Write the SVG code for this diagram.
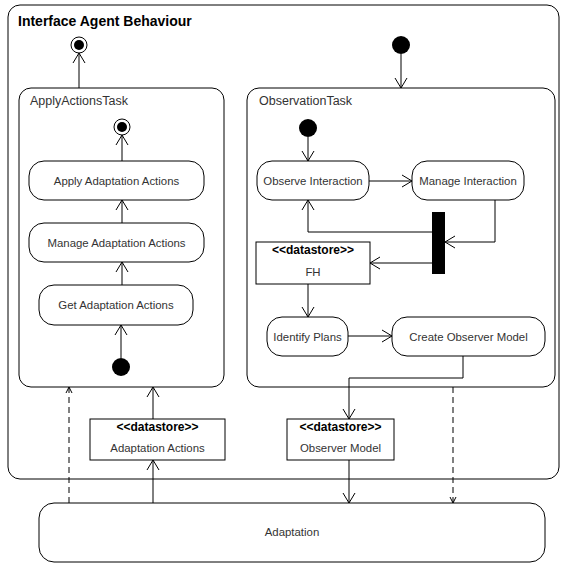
<svg xmlns="http://www.w3.org/2000/svg" width="562" height="565" viewBox="0 0 562 565">
<defs>
<marker id="arr" markerWidth="12" markerHeight="14" refX="11" refY="7" orient="auto" markerUnits="userSpaceOnUse">
<path d="M1,1 L11,7 L1,13" fill="none" stroke="#000" stroke-width="1"/>
</marker>
<marker id="arrs" markerWidth="8" markerHeight="8" refX="7" refY="4" orient="auto" markerUnits="userSpaceOnUse">
<path d="M1,1 L7,4 L1,7" fill="none" stroke="#000" stroke-width="1"/>
</marker>
</defs>
<style>
.frame{fill:#fff;stroke:#000;stroke-width:1}
.act{fill:#fff;stroke:#000;stroke-width:1}
.t{font-family:"Liberation Sans",Arial,sans-serif;font-size:11.4px;fill:#333;text-anchor:middle}
.tl{font-family:"Liberation Sans",Arial,sans-serif;font-size:12.5px;fill:#333}
.b{font-weight:bold;fill:#000;font-size:12px}
.c{fill:none;stroke:#000;stroke-width:1}
.d{fill:none;stroke:#000;stroke-width:1;stroke-dasharray:6,4}
</style>
<rect width="562" height="565" fill="#fff"/>
<g id="frame">
<rect class="frame" x="8" y="5" width="551" height="474" rx="12"/>
<text x="18" y="26" style="font-family:'Liberation Sans',Arial,sans-serif;font-size:14px;font-weight:bold" fill="#000">Interface Agent Behaviour</text>
</g>
<g id="final-outer">
<circle cx="79" cy="45" r="8" fill="#fff" stroke="#000"/>
<circle cx="79" cy="45" r="5" fill="#000"/>
</g>
<g id="initial-outer">
<circle cx="401" cy="45" r="9" fill="#000"/>
</g>
<g id="ApplyActionsTask">
<rect class="frame" x="19" y="88" width="205" height="299" rx="12"/>
<text class="tl" x="30" y="105">ApplyActionsTask</text>
</g>
<g id="ObservationTask">
<rect class="frame" x="247" y="88" width="308" height="299" rx="12"/>
<text class="tl" x="259" y="105">ObservationTask</text>
</g>
<g id="final-inner">
<circle cx="122" cy="127" r="8" fill="#fff" stroke="#000"/>
<circle cx="122" cy="127" r="5" fill="#000"/>
</g>
<g id="apply-actions">
<rect class="act" x="29" y="161" width="175" height="39" rx="15"/>
<text class="t" x="116.5" y="185">Apply Adaptation Actions</text>
</g>
<g id="manage-actions">
<rect class="act" x="29" y="223" width="175" height="39" rx="15"/>
<text class="t" x="116.5" y="247">Manage Adaptation Actions</text>
</g>
<g id="get-actions">
<rect class="act" x="39" y="285" width="154" height="40" rx="15"/>
<text class="t" x="116" y="309">Get Adaptation Actions</text>
</g>
<g id="initial-apply">
<circle cx="121" cy="367" r="9" fill="#000"/>
</g>
<g id="initial-obs">
<circle cx="308" cy="128" r="9" fill="#000"/>
</g>
<g id="observe-interaction">
<rect class="act" x="257" y="161" width="112" height="39" rx="15"/>
<text class="t" x="313" y="185">Observe Interaction</text>
</g>
<g id="manage-interaction">
<rect class="act" x="412" y="161" width="112" height="39" rx="15"/>
<text class="t" x="468" y="185">Manage Interaction</text>
</g>
<g id="fork">
<rect x="432" y="212" width="13" height="62" fill="#000"/>
</g>
<g id="fh">
<rect class="act" x="256" y="242" width="114" height="42"/>
<text class="t b" x="313" y="254">&lt;&lt;datastore&gt;&gt;</text>
<text class="t" x="313" y="276">FH</text>
</g>
<g id="identify-plans">
<rect class="act" x="267" y="317" width="81" height="39" rx="15"/>
<text class="t" x="307.5" y="341">Identify Plans</text>
</g>
<g id="create-observer-model">
<rect class="act" x="392" y="317" width="153" height="39" rx="15"/>
<text class="t" x="468.5" y="341">Create Observer Model</text>
</g>
<g id="ds-adaptation-actions">
<rect class="act" x="90" y="419" width="135" height="41"/>
<text class="t b" x="157.5" y="431">&lt;&lt;datastore&gt;&gt;</text>
<text class="t" x="157.5" y="452">Adaptation Actions</text>
</g>
<g id="ds-observer-model">
<rect class="act" x="287" y="419" width="107" height="41"/>
<text class="t b" x="340.5" y="431">&lt;&lt;datastore&gt;&gt;</text>
<text class="t" x="340.5" y="452">Observer Model</text>
</g>
<g id="adaptation">
<rect class="act" x="39" y="503" width="506" height="59" rx="15"/>
<text class="t" x="292" y="536">Adaptation</text>
</g>
<g id="connectors">
<line class="c" x1="79" y1="88" x2="79" y2="53" marker-end="url(#arr)"/>
<line class="c" x1="401" y1="54" x2="401" y2="88" marker-end="url(#arr)"/>
<line class="c" x1="122" y1="161" x2="122" y2="135" marker-end="url(#arr)"/>
<line class="c" x1="122" y1="223" x2="122" y2="200" marker-end="url(#arr)"/>
<line class="c" x1="122" y1="285" x2="122" y2="262" marker-end="url(#arr)"/>
<line class="c" x1="121" y1="358" x2="121" y2="325" marker-end="url(#arr)"/>
<line class="c" x1="308" y1="137" x2="308" y2="161" marker-end="url(#arr)"/>
<line class="c" x1="369" y1="181" x2="412" y2="181" marker-end="url(#arr)"/>
<polyline class="c" points="495,200 495,242 445,242" marker-end="url(#arr)"/>
<polyline class="c" points="432,232 308,232 308,200" marker-end="url(#arr)"/>
<line class="c" x1="432" y1="263" x2="370" y2="263" marker-end="url(#arr)"/>
<line class="c" x1="308" y1="284" x2="308" y2="317" marker-end="url(#arr)"/>
<line class="c" x1="348" y1="336" x2="392" y2="336" marker-end="url(#arr)"/>
<polyline class="c" points="463,356 463,378 349,378 349,419" marker-end="url(#arr)"/>
<line class="c" x1="349" y1="460" x2="349" y2="503" marker-end="url(#arr)"/>
<line class="c" x1="153" y1="503" x2="153" y2="460" marker-end="url(#arr)"/>
<line class="c" x1="153" y1="419" x2="153" y2="387" marker-end="url(#arr)"/>
<line class="d" x1="69" y1="503" x2="69" y2="387" marker-end="url(#arrs)"/>
<line class="d" x1="453" y1="387" x2="453" y2="503" marker-end="url(#arrs)"/>
</g>
</svg>
